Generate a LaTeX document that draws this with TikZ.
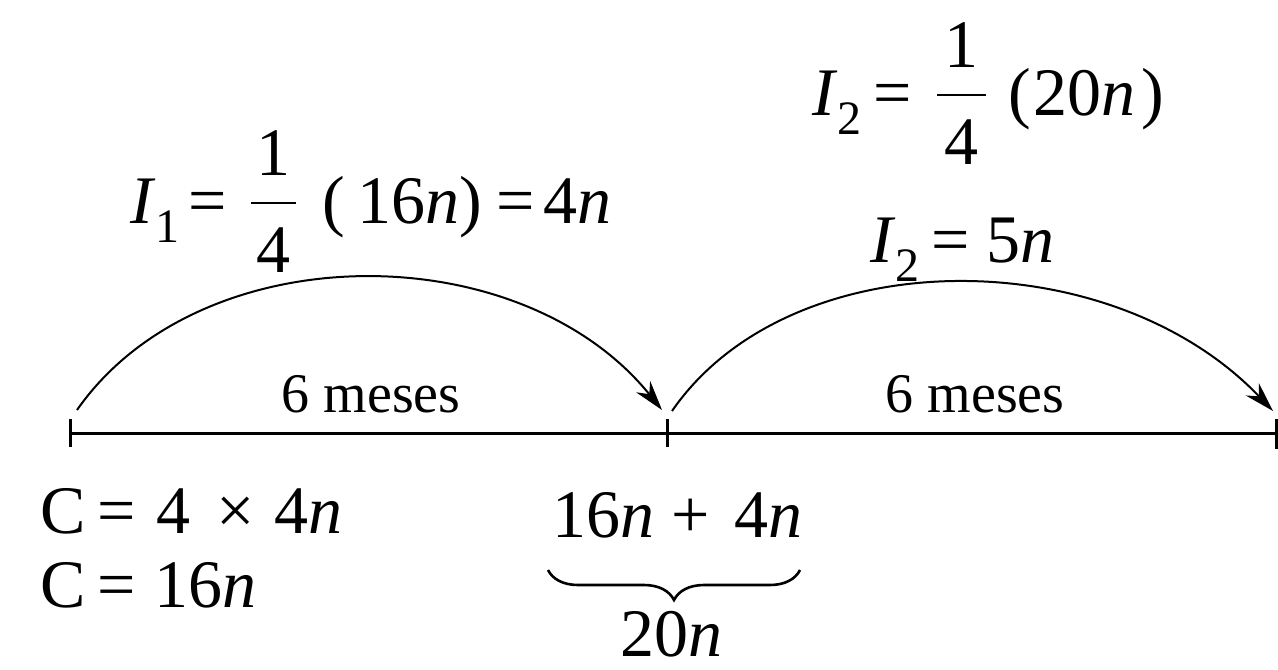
\documentclass[tikz,border=0pt]{standalone}
\usepackage{fontspec}
\setmainfont{Liberation Serif}
\usetikzlibrary{arrows.meta,decorations.pathreplacing}
\newcommand{\ffrac}[3]{\makebox[#1]{\raisebox{24pt}{#2}}\hspace{-#1}\rule[9.5pt]{#1}{0.8pt}\hspace{-#1}\makebox[#1]{\raisebox{-24.5pt}{#3}}}
\newcommand{\sbs}[1]{\raisebox{-9.5pt}{\fontsize{24}{24}\selectfont #1}}
\begin{document}
\begin{tikzpicture}[x=0.5pt,y=-0.5pt,
  lbl/.style={inner sep=0pt, anchor=base west, font=\fontsize{34}{40}\selectfont},
  small/.style={inner sep=0pt, anchor=base, font=\fontsize{28}{32}\selectfont},
  axis/.style={line width=1.5pt},
  arcarrow/.style={line width=1pt,-{Stealth[length=15pt,width=9pt]}},
  bracestyle/.style={line width=1.3pt,decorate,decoration={brace,mirror,amplitude=15pt}}]
\useasboundingbox (0,0) rectangle (1278,669);
% timeline
\coordinate (t0) at (70,433);
\coordinate (t1) at (667,433);
\coordinate (t2) at (1276,433);
\draw[axis] (t0) -- (t1) -- (t2);
\draw[axis] (70,419) -- (70,447);
\draw[axis] (667,419) -- (667,447);
\draw[axis] (1276,419) -- (1276,449);
% arcs
\coordinate (a0) at (77,410);
\coordinate (a1) at (662,410);
\coordinate (b0) at (672,411);
\coordinate (b1) at (1273,411);
\draw[arcarrow] (a0) .. controls (200,234) and (520,234) .. (a1);
\draw[arcarrow] (b0) .. controls (790,240) and (1110,240) .. (b1);
% labels
\node[small] (m1) at (371,412) {6 meses};
\node[small] (m2) at (975,412) {6 meses};
\node[lbl] (i1) at (130,223) {\textit{I}\sbs{1}\hspace{4.5pt}=\hspace{12pt}\ffrac{22.5pt}{1}{4}\hspace{13pt}(\hspace{6.5pt}16\textit{n})\hspace{7pt}=\hspace{4.5pt}4\textit{n}};
\node[lbl] (i2a) at (812,115) {\textit{I}\sbs{2}\hspace{6pt}=\hspace{12.5pt}\ffrac{24.5pt}{1}{4}\hspace{11pt}(\hspace{1.5pt}20\textit{n}\hspace{3pt})};
\node[lbl] (i2b) at (870,262) {\textit{I}\sbs{2}\hspace{6pt}=\hspace{8pt}5\textit{n}};
\node[lbl] (c1) at (40,533) {C\hspace{6pt}=\hspace{10pt}4\hspace{13pt}×\hspace{10pt}4\textit{n}};
\node[lbl] (c2) at (40,607) {C\hspace{6pt}=\hspace{9pt}16\textit{n}};
\node[lbl] (s) at (552,537) {16\textit{n}\hspace{8.5pt}+\hspace{12.5pt}4\textit{n}};
\node[lbl, anchor=base, text depth=0pt] (tw) at (671,656) {20\textit{n}};
\coordinate (br0) at (548,570);
\coordinate (br1) at (800,570);
\draw[bracestyle] (br0) -- (br1);
\end{tikzpicture}
\end{document}
